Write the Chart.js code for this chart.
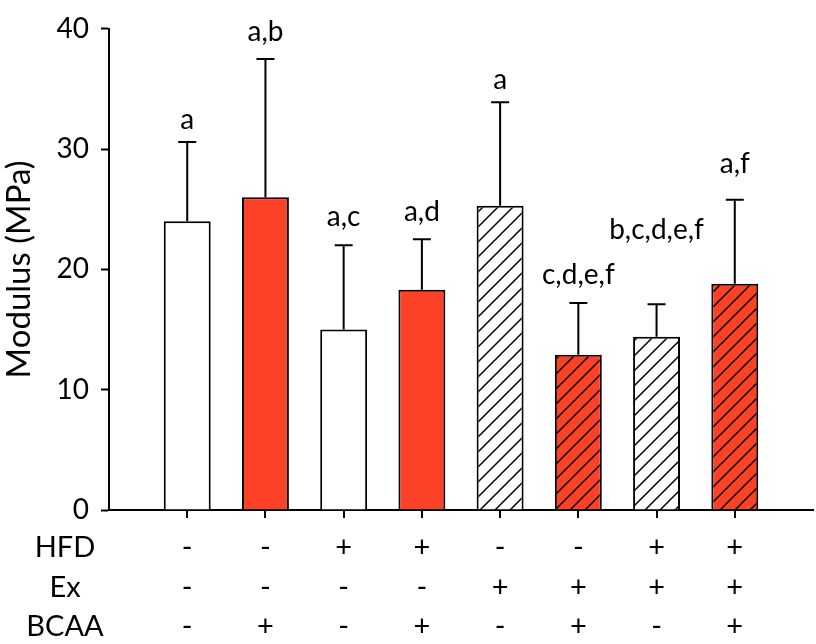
<!DOCTYPE html>
<html><head><meta charset="utf-8">
<script src="https://cdn.jsdelivr.net/npm/chart.js@4"></script>
<style>html,body{margin:0;padding:0;background:#fff}</style>
</head><body>
<canvas id="c" width="816" height="644"></canvas>
<script>
// ---- data ----
const groups    = [1, 2, 3, 4, 5, 6, 7, 8];
const modulus   = [24.0, 26.0, 15.0, 18.3, 25.3, 12.9, 14.4, 18.8];
const errorTop  = [30.6, 37.5, 22.0, 22.5, 33.9, 17.2, 17.1, 25.8];
const letters   = ['a', 'a,b', 'a,c', 'a,d', 'a', 'c,d,e,f', 'b,c,d,e,f', 'a,f'];
const letterAt  = [31.7, 39.0, 23.6, 24.0, 35.0, 18.8, 22.5, 28.0];
const rowNames  = ['HFD', 'Ex', 'BCAA'];
const hfd       = ['-', '-', '+', '+', '-', '-', '+', '+'];
const ex        = ['-', '-', '-', '-', '+', '+', '+', '+'];
const bcaa      = ['-', '+', '-', '+', '-', '+', '-', '+'];
const yTicks    = [0, 10, 20, 30, 40];
const yTitle    = 'Modulus (MPa)';

// ---- styling ----
const RED = '#fc4127';
const FONT = 'Lato';
Chart.defaults.font.family = FONT;
Chart.defaults.color = '#000';

function hatch(bg) {
  const s = 15;
  const c = document.createElement('canvas');
  c.width = s; c.height = s;
  const g = c.getContext('2d');
  g.fillStyle = bg; g.fillRect(0, 0, s, s);
  g.strokeStyle = '#000'; g.lineWidth = 1.5;
  g.beginPath();
  g.moveTo(-2, s + 2); g.lineTo(s + 2, -2);
  g.moveTo(-2, 2); g.lineTo(2, -2);
  g.moveTo(s - 2, s + 2); g.lineTo(s + 2, s - 2);
  g.stroke();
  return document.getElementById('c').getContext('2d').createPattern(c, 'repeat');
}
const fills = groups.map((g, i) => {
  const base = bcaa[i] === '+' ? RED : '#ffffff';
  return ex[i] === '+' ? hatch(base) : base;
});

const overlay = {
  id: 'overlay',
  afterDatasetsDraw(chart) {
    const ctx = chart.ctx, xs = chart.scales.x, ys = chart.scales.y;
    ctx.save();
    ctx.strokeStyle = '#000'; ctx.lineWidth = 2;
    groups.forEach((g, i) => {
      const x = xs.getPixelForValue(g);
      const y0 = ys.getPixelForValue(modulus[i]);
      const y1 = ys.getPixelForValue(errorTop[i]);
      ctx.beginPath();
      ctx.moveTo(x, y0); ctx.lineTo(x, y1);
      ctx.moveTo(x - 9, y1); ctx.lineTo(x + 9, y1);
      ctx.stroke();
    });
    ctx.fillStyle = '#000';
    ctx.textAlign = 'center'; ctx.textBaseline = 'alphabetic';
    ctx.font = '28px ' + FONT;
    groups.forEach((g, i) => {
      ctx.fillText(letters[i], xs.getPixelForValue(g), ys.getPixelForValue(letterAt[i]));
    });
    ctx.restore();
  },
  afterDraw(chart) {
    const ctx = chart.ctx, xs = chart.scales.x;
    const rows = [hfd, ex, bcaa];
    const rowY = [548, 588, 627];
    ctx.save();
    ctx.fillStyle = '#000';
    ctx.textAlign = 'center'; ctx.textBaseline = 'middle';
    ctx.font = '29px ' + FONT;
    rows.forEach((r, ri) => {
      ctx.fillText(rowNames[ri], 65, rowY[ri]);
      r.forEach((v, i) => ctx.fillText(v, xs.getPixelForValue(groups[i]), rowY[ri]));
    });
    ctx.restore();
  }
};

new Chart(document.getElementById('c'), {
  type: 'bar',
  data: {
    datasets: [{
      data: groups.map((g, i) => ({ x: g, y: modulus[i] })),
      backgroundColor: fills,
      borderColor: '#000',
      borderWidth: 2,
      borderSkipped: 'start',
      categoryPercentage: 1.0,
      barPercentage: 0.6
    }]
  },
  options: {
    responsive: false,
    animation: false,
    devicePixelRatio: 1,
    layout: { padding: { top: 16, right: 3, left: 0, bottom: 0 } },
    plugins: { legend: { display: false }, tooltip: { enabled: false } },
    scales: {
      x: {
        type: 'linear', min: 0, max: groups.length + 1, offset: false,
        afterFit(s) { s.height = 134; },
        afterBuildTicks(s) { s.ticks = [0].concat(groups, [groups.length + 1]).map(v => ({ value: v })); },
        ticks: { callback: () => '', autoSkip: false },
        grid: {
          drawOnChartArea: false, tickLength: 8, lineWidth: 2, offset: false,
          tickColor: (c) => (c.tick && c.tick.value >= 1 && c.tick.value <= groups.length) ? '#000' : 'rgba(0,0,0,0)',
          tickWidth: 2
        },
        border: { color: '#000', width: 2 }
      },
      y: {
        min: yTicks[0], max: yTicks[yTicks.length - 1],
        afterFit(s) { s.width = 109; },
        afterBuildTicks(s) { s.ticks = yTicks.map(v => ({ value: v })); },
        ticks: { font: { size: 28 }, padding: 12, color: '#000' },
        grid: { drawOnChartArea: false, tickLength: 8, tickColor: '#000', tickWidth: 2 },
        border: { color: '#000', width: 2 },
        title: { display: true, text: yTitle, font: { size: 33 }, padding: 0, color: '#000' }
      }
    }
  },
  plugins: [overlay]
});
</script>
</body></html>
